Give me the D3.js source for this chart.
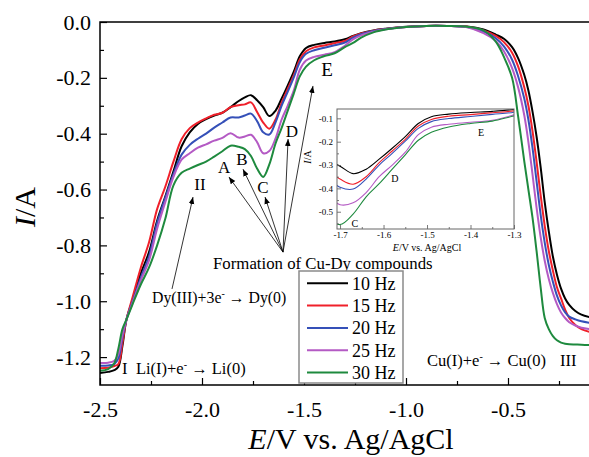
<!DOCTYPE html>
<html>
<head>
<meta charset="utf-8">
<script src="https://cdn.jsdelivr.net/npm/d3@7"></script>
<style>
  body { margin: 0; background: #fff; }
  text { font-family: "Liberation Serif", "Times New Roman", serif; fill: #000; }
</style>
</head>
<body>
<svg id="chart" width="589" height="457"></svg>
<script>
// potential grid (V vs. Ag/AgCl) and current for each frequency (A)
const potential = [-2.50, -2.46, -2.43, -2.41, -2.39, -2.37, -2.34, -2.30, -2.26, -2.22,
  -2.18, -2.14, -2.10, -2.06, -2.02, -1.98, -1.94, -1.90, -1.86, -1.82,
  -1.79, -1.76, -1.73, -1.70, -1.67, -1.64, -1.61, -1.58, -1.55, -1.52,
  -1.49, -1.45, -1.40, -1.35, -1.30, -1.26, -1.22, -1.16, -1.10, -1.00,
  -0.90, -0.80, -0.70, -0.62, -0.56, -0.52, -0.48, -0.45, -0.42, -0.40,
  -0.38, -0.36, -0.34, -0.32, -0.30, -0.28, -0.26, -0.24, -0.22, -0.20,
  -0.17, -0.14, -0.10];

const current10 = [-1.257, -1.253, -1.247, -1.235, -1.16, -1.065, -0.995, -0.90, -0.825, -0.712,
  -0.625, -0.535, -0.445, -0.395, -0.365, -0.348, -0.335, -0.325, -0.305, -0.283,
  -0.27, -0.262, -0.28, -0.305, -0.337, -0.318, -0.275, -0.228, -0.178, -0.122,
  -0.093, -0.082, -0.075, -0.07, -0.062, -0.05, -0.04, -0.03, -0.024, -0.017,
  -0.014, -0.014, -0.016, -0.027, -0.045, -0.06, -0.09, -0.13, -0.19, -0.245,
  -0.32, -0.41, -0.52, -0.645, -0.75, -0.84, -0.905, -0.955, -0.99, -1.013,
  -1.035, -1.048, -1.057];

const current15 = [-1.24, -1.238, -1.232, -1.225, -1.15, -1.065, -0.985, -0.88, -0.79, -0.67,
  -0.59, -0.50, -0.42, -0.38, -0.36, -0.345, -0.332, -0.325, -0.305, -0.298,
  -0.295, -0.288, -0.322, -0.36, -0.382, -0.35, -0.29, -0.24, -0.19, -0.133,
  -0.105, -0.091, -0.084, -0.076, -0.068, -0.052, -0.041, -0.031, -0.025, -0.018,
  -0.014, -0.014, -0.017, -0.03, -0.05, -0.072, -0.11, -0.16, -0.235, -0.30,
  -0.39, -0.50, -0.62, -0.73, -0.82, -0.89, -0.95, -0.99, -1.03, -1.06,
  -1.085, -1.10, -1.11];

const current20 = [-1.231, -1.23, -1.225, -1.205, -1.13, -1.065, -1.0, -0.915, -0.84, -0.72,
  -0.63, -0.545, -0.475, -0.44, -0.418, -0.40, -0.378, -0.36, -0.342, -0.342,
  -0.335, -0.328, -0.355, -0.395, -0.403, -0.36, -0.30, -0.25, -0.198, -0.143,
  -0.114, -0.101, -0.092, -0.083, -0.074, -0.056, -0.044, -0.032, -0.025, -0.018,
  -0.014, -0.014, -0.018, -0.034, -0.058, -0.087, -0.135, -0.195, -0.275, -0.35,
  -0.45, -0.57, -0.69, -0.79, -0.87, -0.93, -0.98, -1.015, -1.04, -1.055,
  -1.065, -1.072, -1.077];

const current25 = [-1.221, -1.22, -1.213, -1.19, -1.12, -1.065, -1.005, -0.925, -0.855, -0.74,
  -0.645, -0.555, -0.493, -0.47, -0.45, -0.438, -0.425, -0.415, -0.398, -0.414,
  -0.41, -0.404, -0.43, -0.47, -0.462, -0.418, -0.35, -0.30, -0.245, -0.17,
  -0.138, -0.125, -0.117, -0.108, -0.085, -0.062, -0.048, -0.035, -0.026, -0.018,
  -0.014, -0.014, -0.019, -0.04, -0.068, -0.105, -0.165, -0.235, -0.335, -0.43,
  -0.545, -0.665, -0.77, -0.855, -0.92, -0.97, -1.01, -1.04, -1.06, -1.075,
  -1.087, -1.095, -1.10];

const current30 = [-1.249, -1.243, -1.222, -1.17, -1.10, -1.065, -1.01, -0.94, -0.88, -0.80,
  -0.705, -0.585, -0.54, -0.525, -0.512, -0.50, -0.482, -0.463, -0.443, -0.447,
  -0.455, -0.48, -0.525, -0.555, -0.51, -0.436, -0.38, -0.318, -0.256, -0.194,
  -0.16, -0.137, -0.122, -0.112, -0.09, -0.075, -0.056, -0.037, -0.027, -0.018,
  -0.014, -0.014, -0.017, -0.03, -0.07, -0.125, -0.20, -0.34, -0.50, -0.60,
  -0.70, -0.82, -0.95, -1.06, -1.10, -1.125, -1.14, -1.148, -1.152, -1.154,
  -1.155, -1.156, -1.157];

const seriesNames = ["10 Hz", "15 Hz", "20 Hz", "25 Hz", "30 Hz"];
const seriesColors = ["#000000", "#f0202a", "#3550b8", "#b45ac4", "#1e8a3e"];
const seriesValues = [current10, current15, current20, current25, current30];

const xTicks = [-2.5, -2.0, -1.5, -1.0, -0.5];
const xMinorTicks = [-2.25, -1.75, -1.25, -0.75, -0.25];
const yTicks = [0, -0.2, -0.4, -0.6, -0.8, -1.0, -1.2];
const yMinorTicks = [-0.1, -0.3, -0.5, -0.7, -0.9, -1.1];
const insetXTicks = [-1.7, -1.6, -1.5, -1.4, -1.3];
const insetXMinorTicks = [-1.65, -1.55, -1.45, -1.35];
const insetYTicks = [-0.1, -0.2, -0.3, -0.4, -0.5];
const insetYMinorTicks = [-0.15, -0.25, -0.35, -0.45, -0.55];

const svg = d3.select("#chart");
const fmt = d => (Math.abs(d) < 1e-9 ? 0 : d).toFixed(1);

const series = seriesValues.map((vals, k) => ({
  name: seriesNames[k],
  color: seriesColors[k],
  points: potential.map((e, i) => [e, vals[i]])
}));

// main plot
const x = d3.scaleLinear().domain([-2.5, -0.1]).range([100, 589.6]);
const y = d3.scaleLinear().domain([-1.3, 0]).range([385, 22]);

svg.append("defs").append("clipPath").attr("id", "mainClip")
  .append("rect").attr("x", 100).attr("y", 22).attr("width", 490).attr("height", 363);

const marker = svg.select("defs").append("marker")
  .attr("id", "head").attr("viewBox", "0 0 10 10")
  .attr("refX", 10).attr("refY", 5)
  .attr("markerWidth", 7).attr("markerHeight", 7)
  .attr("markerUnits", "userSpaceOnUse")
  .attr("orient", "auto");
marker.append("path").attr("d", "M0,1 L10,5 L0,9 Z").attr("fill", "#000");

const line = d3.line()
  .x(d => x(d[0])).y(d => y(d[1]))
  .curve(d3.curveCatmullRom.alpha(0.5));

svg.append("g").attr("clip-path", "url(#mainClip)")
  .selectAll("path")
  .data(series)
  .enter()
  .append("path")
  .attr("d", d => line(d.points))
  .attr("fill", "none")
  .attr("stroke", d => d.color)
  .attr("stroke-width", 2);

// axes, ticks inward
const styleAxis = (g, size) => {
  g.select(".domain").remove();
  g.selectAll("line").attr("stroke", "#000").attr("stroke-width", 1.2);
  g.selectAll("text").attr("font-family", "Liberation Serif").attr("font-size", size).attr("fill", "#000");
};

svg.append("g").attr("transform", "translate(0,385)")
  .call(d3.axisBottom(x).tickValues(xTicks).tickSize(-7).tickPadding(16).tickFormat(fmt))
  .call(g => styleAxis(g, 22));
svg.append("g").attr("transform", "translate(0,385)")
  .call(d3.axisBottom(x).tickValues(xMinorTicks).tickSize(-4).tickFormat(""))
  .call(g => styleAxis(g, 22));
svg.append("g").attr("transform", "translate(100,0)")
  .call(d3.axisLeft(y).tickValues(yTicks).tickSize(-7).tickPadding(9).tickFormat(fmt))
  .call(g => styleAxis(g, 22));
svg.append("g").attr("transform", "translate(100,0)")
  .call(d3.axisLeft(y).tickValues(yMinorTicks).tickSize(-4).tickFormat(""))
  .call(g => styleAxis(g, 22));

svg.append("path")
  .attr("d", `M589,${y(0)} H${x(-2.5)} V${y(-1.3)} H589`)
  .attr("fill", "none").attr("stroke", "#000").attr("stroke-width", 1.5);

// axis titles
svg.append("text")
  .attr("transform", "translate(35,207) rotate(-90)")
  .attr("text-anchor", "middle").attr("font-size", 30)
  .html('<tspan font-style="italic">I</tspan>/A');
svg.append("text")
  .attr("x", 351).attr("y", 449)
  .attr("text-anchor", "middle").attr("font-size", 30)
  .html('<tspan font-style="italic">E</tspan>/V vs. Ag/AgCl');

// annotations (in data coordinates)
const arrow = (e0, i0, e1, i1) => svg.append("line")
  .attr("x1", x(e0)).attr("y1", y(i0)).attr("x2", x(e1)).attr("y2", y(i1))
  .attr("stroke", "#000").attr("stroke-width", 0.8)
  .attr("marker-end", "url(#head)");

const focus = [-1.603, -0.824];
[[-1.868, -0.555], [-1.799, -0.527], [-1.691, -0.627], [-1.578, -0.419], [-1.456, -0.229]]
  .forEach(t => arrow(focus[0], focus[1], t[0], t[1]));
arrow(-2.147, -0.956, -2.044, -0.627);

const label = (e, i, txt, size) => svg.append("text")
  .attr("x", x(e)).attr("y", y(i)).attr("text-anchor", "middle")
  .attr("dy", "0.35em").attr("font-size", size).text(txt);

label(-1.892, -0.519, "A", 17);
label(-1.804, -0.491, "B", 17);
label(-1.701, -0.591, "C", 17);
label(-1.559, -0.390, "D", 17);
label(-1.387, -0.168, "E", 19);
label(-2.010, -0.580, "II", 17);

const sup = '<tspan dy="-6" font-size="10">-</tspan><tspan dy="6">';
svg.append("text").attr("x", x(-1.946)).attr("y", y(-0.885)).attr("font-size", 16.8)
  .text("Formation of Cu-Dy compounds");
svg.append("text").attr("x", x(-2.245)).attr("y", y(-1.006)).attr("font-size", 15.8)
  .html(`Dy(III)+3e${sup} \u2192 Dy(0)</tspan>`);
svg.append("text").attr("x", x(-2.392)).attr("y", y(-1.261)).attr("font-size", 16.5).text("I");
svg.append("text").attr("x", x(-2.324)).attr("y", y(-1.261)).attr("font-size", 16.5)
  .html(`Li(I)+e${sup} \u2192 Li(0)</tspan>`);
svg.append("text").attr("x", x(-0.897)).attr("y", y(-1.232)).attr("font-size", 16.5)
  .html(`Cu(I)+e${sup} \u2192 Cu(0)</tspan>`);
svg.append("text").attr("x", x(-0.245)).attr("y", y(-1.232)).attr("font-size", 16.5).text("III");

// legend
const legend = svg.append("g").attr("transform", "translate(299,271)");
legend.append("rect").attr("width", 104).attr("height", 112)
  .attr("fill", "#fff").attr("stroke", "#8a8a8a").attr("stroke-width", 1.5);
const rows = legend.selectAll("g.row").data(series).enter()
  .append("g").attr("class", "row")
  .attr("transform", (d, i) => `translate(0,${12.3 + i * 22.3})`);
rows.append("line").attr("x1", 8).attr("x2", 49)
  .attr("stroke", d => d.color).attr("stroke-width", 2);
rows.append("text").attr("x", 53).attr("dy", "0.35em").attr("font-size", 18).text(d => d.name);

// inset
const ix = d3.scaleLinear().domain([-1.707, -1.3]).range([337, 514]);
const iy = d3.scaleLinear().domain([-0.574, -0.06]).range([229, 109]);

svg.select("defs").append("clipPath").attr("id", "insetClip")
  .append("rect").attr("x", 337).attr("y", 109).attr("width", 177).attr("height", 120);

svg.append("rect").attr("x", 337).attr("y", 109).attr("width", 177).attr("height", 120)
  .attr("fill", "#fff");

const iline = d3.line()
  .x(d => ix(d[0])).y(d => iy(d[1]))
  .curve(d3.curveCatmullRom.alpha(0.5));

svg.append("g").attr("clip-path", "url(#insetClip)")
  .selectAll("path")
  .data(series)
  .enter()
  .append("path")
  .attr("d", d => iline(d.points))
  .attr("fill", "none")
  .attr("stroke", d => d.color)
  .attr("stroke-width", 1.1);

const styleInset = g => {
  g.select(".domain").remove();
  g.selectAll("line").attr("stroke", "#555").attr("stroke-width", 0.8);
  g.selectAll("text").attr("font-family", "Liberation Serif").attr("font-size", 9).attr("fill", "#222");
};
svg.append("g").attr("transform", "translate(0,229)")
  .call(d3.axisBottom(ix).tickValues(insetXTicks).tickSize(-4).tickPadding(3).tickFormat(fmt))
  .call(styleInset);
svg.append("g").attr("transform", "translate(0,229)")
  .call(d3.axisBottom(ix).tickValues(insetXMinorTicks).tickSize(-2).tickFormat(""))
  .call(styleInset);
svg.append("g").attr("transform", "translate(337,0)")
  .call(d3.axisLeft(iy).tickValues(insetYTicks).tickSize(-4).tickPadding(4).tickFormat(fmt))
  .call(styleInset);
svg.append("g").attr("transform", "translate(337,0)")
  .call(d3.axisLeft(iy).tickValues(insetYMinorTicks).tickSize(-2).tickFormat(""))
  .call(styleInset);

svg.append("rect").attr("x", 337).attr("y", 109).attr("width", 177).attr("height", 120)
  .attr("fill", "none").attr("stroke", "#666").attr("stroke-width", 1);

svg.append("text")
  .attr("transform", "translate(311,157) rotate(-90)")
  .attr("text-anchor", "middle").attr("font-size", 10)
  .html('<tspan font-style="italic">I</tspan>/A');
svg.append("text")
  .attr("x", 427).attr("y", 251).attr("text-anchor", "middle").attr("font-size", 10)
  .html('<tspan font-style="italic">E</tspan>/V vs. Ag/AgCl');

const ilabel = (e, i, txt) => svg.append("text")
  .attr("x", ix(e)).attr("y", iy(i)).attr("text-anchor", "middle")
  .attr("dy", "0.35em").attr("font-size", 10).text(txt);
ilabel(-1.376, -0.159, "E");
ilabel(-1.574, -0.356, "D");
ilabel(-1.666, -0.549, "C");
</script>
</body>
</html>
